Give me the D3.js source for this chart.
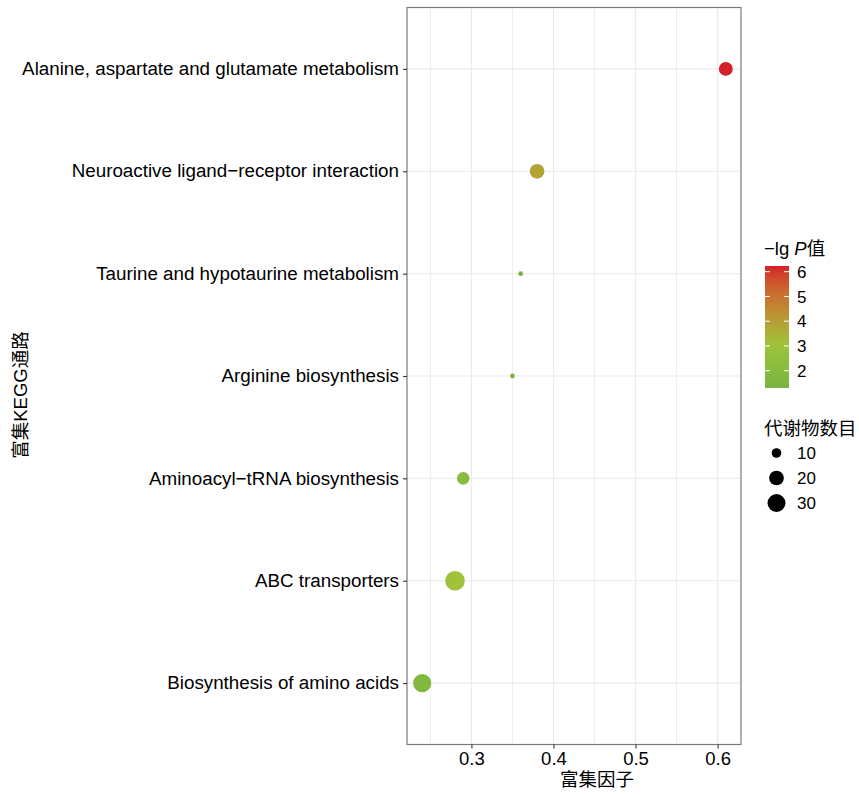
<!DOCTYPE html>
<html>
<head>
<meta charset="utf-8">
<script src="https://cdn.jsdelivr.net/npm/d3@7/dist/d3.min.js"></script>
<style>
  html, body { margin: 0; padding: 0; background: #fff; }
  svg text { font-family: "Liberation Sans", Arial, "Noto Sans CJK SC", sans-serif; fill: #000; }
</style>
</head>
<body>
<svg id="chart" width="859" height="795"></svg>
<script>
// ---- data ----
const pathways = [
  "Alanine, aspartate and glutamate metabolism",
  "Neuroactive ligand\u2212receptor interaction",
  "Taurine and hypotaurine metabolism",
  "Arginine biosynthesis",
  "Aminoacyl\u2212tRNA biosynthesis",
  "ABC transporters",
  "Biosynthesis of amino acids"
];
const richFactor = [0.61, 0.38, 0.36, 0.35, 0.29, 0.28, 0.24];
const negLogP = [6.23, 3.85, 1.30, 1.45, 2.05, 3.05, 1.70];
const counts = [18, 20, 7, 7, 15, 36, 31];
const xTicks = [0.3, 0.4, 0.5, 0.6];
const xMinorTicks = [0.25, 0.35, 0.45, 0.55];
const colorTicks = [2, 3, 4, 5, 6];
const sizeBreaks = [10, 20, 30];
const xTitle = "富集因子";
const yTitle = "富集KEGG通路";
const sizeTitle = "代谢物数目";

// ---- layout ----
const svg = d3.select("#chart");
const panel = { left: 407, right: 741, top: 7.5, bottom: 744.5 };

const xExt = d3.extent(richFactor);
const xPad = (xExt[1] - xExt[0]) * 0.05;
const x = d3.scaleLinear().domain([xExt[0] - xPad, xExt[1] + xPad]).range([panel.left, panel.right]);
const y = d3.scalePoint().domain(pathways).range([panel.top, panel.bottom]).padding(0.6);

const pExt = d3.extent(negLogP);
const color = d3.scaleLinear()
  .domain([pExt[0], 3.0, pExt[1]])
  .range(["#78b540", "#9cc43a", "#d3202a"])
  .interpolate(d3.interpolateLab);

const cExt = d3.extent(counts);
const rMin = 2.4, rMax = 9.8;
const size = c => rMin + (rMax - rMin) * Math.sqrt(Math.max(0, (c - cExt[0]) / (cExt[1] - cExt[0])));

// ---- grid ----
const grid = svg.append("g");
grid.selectAll("line.minor").data(xMinorTicks).enter().append("line")
  .attr("x1", d => x(d)).attr("x2", d => x(d))
  .attr("y1", panel.top).attr("y2", panel.bottom)
  .attr("stroke", "#ededed").attr("stroke-width", 1);
grid.selectAll("line.majorx").data(xTicks).enter().append("line")
  .attr("x1", d => x(d)).attr("x2", d => x(d))
  .attr("y1", panel.top).attr("y2", panel.bottom)
  .attr("stroke", "#ebebeb").attr("stroke-width", 1.1);
grid.selectAll("line.majory").data(pathways).enter().append("line")
  .attr("x1", panel.left).attr("x2", panel.right)
  .attr("y1", d => y(d)).attr("y2", d => y(d))
  .attr("stroke", "#ebebeb").attr("stroke-width", 1.1);

// ---- points ----
const pts = pathways.map((p, i) => ({ p, rf: richFactor[i], lp: negLogP[i], n: counts[i] }));
svg.append("g").selectAll("circle").data(pts).enter().append("circle")
  .attr("cx", d => x(d.rf)).attr("cy", d => y(d.p))
  .attr("r", d => size(d.n))
  .attr("fill", d => color(d.lp));

// ---- panel border ----
svg.append("rect")
  .attr("x", panel.left).attr("y", panel.top)
  .attr("width", panel.right - panel.left).attr("height", panel.bottom - panel.top)
  .attr("fill", "none").attr("stroke", "#7a7a7a").attr("stroke-width", 1.2);

// ---- axes ----
const xAxis = svg.append("g").attr("transform", `translate(0,${panel.bottom})`)
  .call(d3.axisBottom(x).tickValues(xTicks).tickSize(4).tickPadding(3).tickFormat(d3.format(".1f")));
xAxis.select(".domain").remove();
xAxis.selectAll(".tick line").attr("stroke", "#333").attr("stroke-width", 1.1);
xAxis.selectAll(".tick text").attr("font-size", 18.5).attr("fill", "#000");

const yAxis = svg.append("g").attr("transform", `translate(${panel.left},0)`)
  .call(d3.axisLeft(y).tickSize(4).tickPadding(4));
yAxis.select(".domain").remove();
yAxis.selectAll(".tick line").attr("stroke", "#333").attr("stroke-width", 1.1);
yAxis.selectAll(".tick text").attr("font-size", 18.8).attr("fill", "#000").attr("dy", "0.3em");

svg.append("text").attr("x", 597).attr("y", 786)
  .attr("text-anchor", "middle").attr("font-size", 18.5).attr("fill", "#333").text(xTitle);
svg.append("text").attr("transform", `translate(27,395) rotate(-90)`)
  .attr("text-anchor", "middle").attr("font-size", 18.5).attr("fill", "#333").text(yTitle);

// ---- colour legend ----
const cb = { x: 765, y: 266, w: 24, h: 122 };
const cy = d3.scaleLinear().domain(pExt).range([cb.y + cb.h, cb.y]);
const defs = svg.append("defs");
const grad = defs.append("linearGradient").attr("id", "cgrad")
  .attr("x1", 0).attr("y1", 1).attr("x2", 0).attr("y2", 0);
d3.range(0, 1.0001, 0.05).forEach(t => {
  grad.append("stop").attr("offset", t)
    .attr("stop-color", color(pExt[0] + t * (pExt[1] - pExt[0])));
});
const title1 = svg.append("text").attr("x", 764).attr("y", 255).attr("font-size", 18.5).attr("fill", "#333");
title1.append("tspan").text("\u2212lg ");
title1.append("tspan").attr("font-style", "italic").text("P");
title1.append("tspan").text("值");
svg.append("rect").attr("x", cb.x).attr("y", cb.y).attr("width", cb.w).attr("height", cb.h)
  .attr("fill", "url(#cgrad)");
const ctk = svg.append("g");
ctk.selectAll("line.l").data(colorTicks).enter().append("line")
  .attr("x1", cb.x).attr("x2", cb.x + 5).attr("y1", d => cy(d)).attr("y2", d => cy(d))
  .attr("stroke", "#fff").attr("stroke-width", 1);
ctk.selectAll("line.r").data(colorTicks).enter().append("line")
  .attr("x1", cb.x + cb.w - 5).attr("x2", cb.x + cb.w).attr("y1", d => cy(d)).attr("y2", d => cy(d))
  .attr("stroke", "#fff").attr("stroke-width", 1);
ctk.selectAll("text").data(colorTicks).enter().append("text")
  .attr("x", 797).attr("y", d => cy(d)).attr("dy", "0.36em")
  .attr("font-size", 17).text(d => d);

// ---- size legend ----
svg.append("text").attr("x", 764).attr("y", 435).attr("font-size", 18.5).attr("fill", "#333").text(sizeTitle);
const sl = svg.append("g");
sl.selectAll("circle").data(sizeBreaks).enter().append("circle")
  .attr("cx", 776.5).attr("cy", (d, i) => 453 + i * 25)
  .attr("r", d => size(d)).attr("fill", "#000");
sl.selectAll("text").data(sizeBreaks).enter().append("text")
  .attr("x", 797).attr("y", (d, i) => 453 + i * 25).attr("dy", "0.36em")
  .attr("font-size", 17).text(d => d);
</script>
</body>
</html>
